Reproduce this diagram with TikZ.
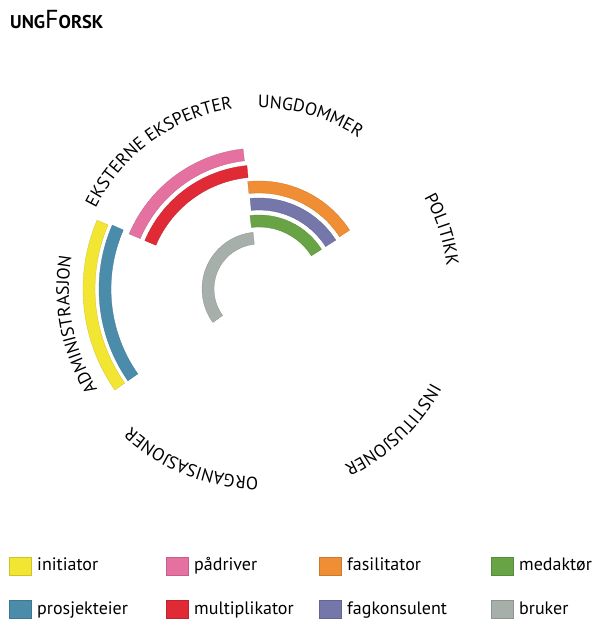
\documentclass[tikz,border=0pt]{standalone}
\usepackage{fontspec}
\setmainfont{PT Sans}
\usepackage{tikz}
\usetikzlibrary{decorations.text}
\definecolor{cinit}{HTML}{F3E632}
\definecolor{cprosj}{HTML}{4A8CAA}
\definecolor{cpadr}{HTML}{E571A0}
\definecolor{cmult}{HTML}{E02A36}
\definecolor{cfasil}{HTML}{EF8E35}
\definecolor{cfagk}{HTML}{7576A9}
\definecolor{cmedak}{HTML}{68A346}
\definecolor{cbruk}{HTML}{A7AFAB}
\newcommand{\circfont}{\fontsize{17.8}{18}\selectfont}
\newcommand{\band}[5]{\filldraw[fill=#1,draw=#1!85!black,line width=0.3pt] ([shift={(#4:#3)}]c) arc[start angle=#4,end angle=#5,radius=#3] -- ([shift={(#5:#2)}]c) arc[start angle=#5,end angle=#4,radius=#2] -- cycle;}
\newcommand{\ringlabel}[3]{\path[decorate,decoration={text along path,text align=center,text={|\circfont|#3}}] ([shift={({#1+60}:#2)}]c) arc[start angle={#1+60},end angle={#1-60},radius=#2];}

\begin{document}
\begin{tikzpicture}[x=1pt,y=1pt]
  \useasboundingbox (0,0) rectangle (596,622);
  \coordinate (c) at (259,333);
  \node[anchor=base west,inner sep=0] (title) at (10,593) {\bfseries\fontsize{18.5}{18}\selectfont UNG\mdseries\fontsize{26}{26}\selectfont F\bfseries\fontsize{18.5}{18}\selectfont ORSK};
  \band{cinit}{164}{176}{157}{215}
  \band{cprosj}{148}{160}{156.5}{215}
  \band{cpadr}{129}{141}{96.5}{157}
  \band{cmult}{112}{124}{95.6}{157}
  \band{cfasil}{96}{108}{33}{96}
  \band{cfagk}{79}{91}{32.5}{95.6}
  \band{cmedak}{62}{74}{32.4}{97}
  \band{cbruk}{45}{57}{96}{216}
  \ringlabel{126}{182}{EKSTERNE EKSPERTER}
  \ringlabel{73.5}{181}{UNGDOMMER}
  \ringlabel{18}{189}{POLITIKK}
  \ringlabel{-46.5}{196}{INSTITUSJONER}
  \ringlabel{-111.5}{188}{ORGANISASJONER}
  \ringlabel{191}{190}{ADMINISTRASJON}
  \foreach \col/\txt/\xx/\yy [count=\i] in {cinit/initiator/9/47, cprosj/prosjekteier/9/4, cpadr/pådriver/166/47, cmult/multiplikator/166/4, cfasil/fasilitator/319/47, cfagk/fagkonsulent/319/4, cmedak/medaktør/491/47, cbruk/bruker/491/4}
  {
    \filldraw[fill=\col,draw=\col!85!black,line width=0.3pt] (\xx,\yy) rectangle ++(22,18);
    \node[anchor=base west,inner sep=0,font=\fontsize{18}{18}\selectfont] (leg\i) at ({\xx+28},{\yy+4}) {\txt};
  }
\end{tikzpicture}
\end{document}
